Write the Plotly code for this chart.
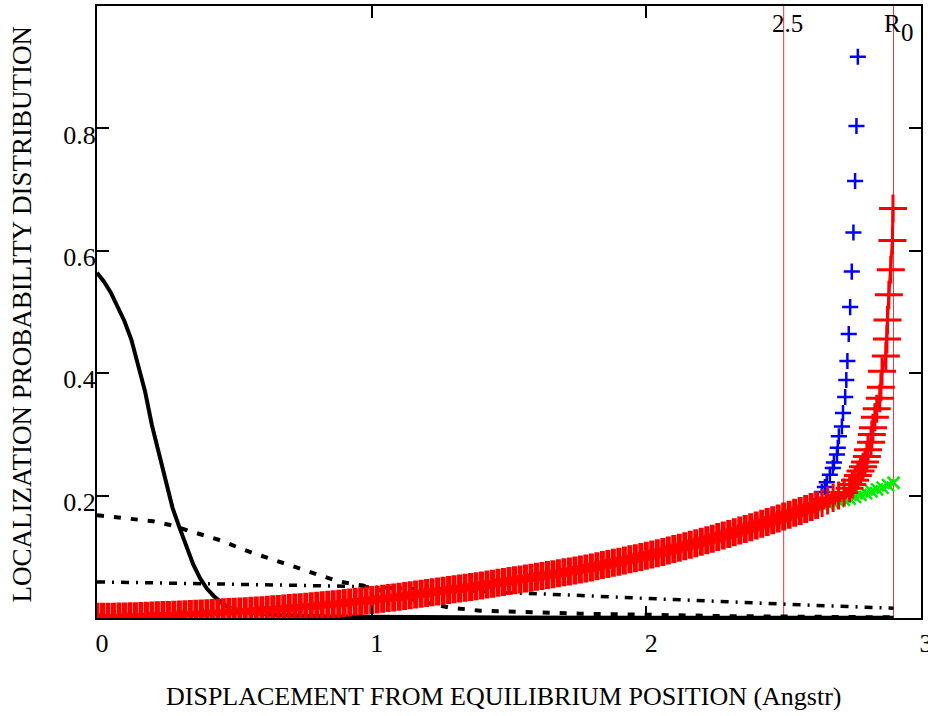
import plotly.graph_objects as go

# ---- black curves: low-lying localization distributions ----
solid_x = [0, 0.025, 0.05, 0.075, 0.1, 0.125, 0.15, 0.175, 0.2, 0.225, 0.25, 0.275, 0.3, 0.325,
           0.35, 0.375, 0.4, 0.425, 0.45, 0.48, 0.55, 0.65, 0.8, 1.0, 1.2, 1.5, 2.0, 2.5, 2.9]
solid_y = [0.564, 0.550, 0.532, 0.510, 0.485, 0.455, 0.415, 0.370, 0.315, 0.268, 0.222, 0.180,
           0.148, 0.118, 0.088, 0.065, 0.048, 0.036, 0.026, 0.017, 0.009, 0.005, 0.003, 0.002,
           0.001, 0.0008, 0.0006, 0.0005, 0.0005]

dash_x = [0, 0.146, 0.204, 0.266, 0.328, 0.386, 0.448, 0.510, 0.568, 0.637, 0.703, 0.764, 0.830,
          0.877, 0.968, 1.05, 1.15, 1.25, 1.285, 1.394, 1.576, 1.758, 1.904, 2.1, 2.3, 2.6, 2.9]
dash_y = [0.168, 0.162, 0.158, 0.152, 0.144, 0.135, 0.127, 0.116, 0.106, 0.096, 0.086, 0.076, 0.066,
          0.060, 0.053, 0.042, 0.030, 0.020, 0.017, 0.012, 0.009, 0.007, 0.006, 0.004, 0.003, 0.002, 0.001]

dd_x = [0, 0.3, 0.6, 0.8, 0.9, 1.2, 1.5, 1.61, 1.8, 2.0, 2.2, 2.43, 2.65, 2.9]
dd_y = [0.059, 0.057, 0.055, 0.053, 0.052, 0.047, 0.042, 0.040, 0.036, 0.032, 0.028, 0.024, 0.020, 0.016]

# ---- red "+" series (dense along the whole range) ----
red_x = [0.00, 0.02, 0.04, 0.06, 0.08, 0.10, 0.12, 0.14, 0.16, 0.18, 0.20, 0.22, 0.24, 0.26, 0.28,
         0.30, 0.32, 0.34, 0.36, 0.38, 0.40, 0.42, 0.44, 0.46, 0.48, 0.50, 0.52, 0.54, 0.56, 0.58,
         0.60, 0.62, 0.64, 0.66, 0.68, 0.70, 0.72, 0.74, 0.76, 0.78, 0.80, 0.82, 0.84, 0.86, 0.88,
         0.90, 0.92, 0.94, 0.96, 0.98, 1.00, 1.02, 1.04, 1.06, 1.08, 1.10, 1.12, 1.14, 1.16, 1.18,
         1.20, 1.22, 1.24, 1.26, 1.28, 1.30, 1.32, 1.34, 1.36, 1.38, 1.40, 1.42, 1.44, 1.46, 1.48,
         1.50, 1.52, 1.54, 1.56, 1.58, 1.60, 1.62, 1.64, 1.66, 1.68, 1.70, 1.72, 1.74, 1.76, 1.78,
         1.80, 1.82, 1.84, 1.86, 1.88, 1.90, 1.92, 1.94, 1.96, 1.98, 2.00, 2.02, 2.04, 2.06, 2.08,
         2.10, 2.12, 2.14, 2.16, 2.18, 2.20, 2.22, 2.24, 2.26, 2.28, 2.30, 2.32, 2.34, 2.36, 2.38,
         2.40, 2.42, 2.44, 2.46, 2.48, 2.50, 2.52, 2.54, 2.56, 2.58, 2.60, 2.62, 2.64, 2.66, 2.68,
         2.70, 2.72, 2.74, 2.75, 2.76, 2.77, 2.78,
         2.789, 2.796, 2.803, 2.807, 2.818, 2.821, 2.825, 2.832, 2.839, 2.850, 2.854, 2.858, 2.872,
         2.876, 2.878, 2.883, 2.890, 2.896, 2.898]
red_y = [0.0020, 0.0020, 0.0021, 0.0022, 0.0024, 0.0026, 0.0028, 0.0030, 0.0033, 0.0036, 0.0039,
         0.0043, 0.0047, 0.0051, 0.0055, 0.0059, 0.0063, 0.0067, 0.0071, 0.0075, 0.0079, 0.0083,
         0.0087, 0.0092, 0.0097, 0.0102, 0.0107, 0.0112, 0.0117, 0.0122, 0.0128, 0.0135, 0.0142,
         0.0149, 0.0156, 0.0163, 0.0170, 0.0177, 0.0184, 0.0191, 0.0199, 0.0207, 0.0216, 0.0225,
         0.0234, 0.0244, 0.0254, 0.0264, 0.0274, 0.0284, 0.0294, 0.0304, 0.0315, 0.0326, 0.0337,
         0.0348, 0.0360, 0.0372, 0.0384, 0.0396, 0.0408, 0.0420, 0.0432, 0.0444, 0.0456, 0.0468,
         0.0481, 0.0494, 0.0507, 0.0520, 0.0533, 0.0547, 0.0561, 0.0575, 0.0589, 0.0603, 0.0617,
         0.0631, 0.0645, 0.0659, 0.0673, 0.0687, 0.0701, 0.0716, 0.0731, 0.0746, 0.0761, 0.0776,
         0.0791, 0.0807, 0.0826, 0.0845, 0.0864, 0.0883, 0.0902, 0.0921, 0.0940, 0.0959, 0.0978,
         0.0997, 0.1016, 0.1036, 0.1058, 0.1080, 0.1103, 0.1126, 0.1149, 0.1173, 0.1197, 0.1221,
         0.1246, 0.1271, 0.1296, 0.1322, 0.1348, 0.1374, 0.1401, 0.1428, 0.1455, 0.1483, 0.1511,
         0.1539, 0.1568, 0.1597, 0.1627, 0.1657, 0.1687, 0.1718, 0.1749, 0.1781, 0.1813, 0.1845,
         0.188, 0.192, 0.196, 0.200, 0.205, 0.212, 0.218, 0.225, 0.233, 0.240,
         0.247, 0.255, 0.264, 0.275, 0.287, 0.300, 0.311, 0.328, 0.342, 0.359, 0.377, 0.403, 0.428,
         0.456, 0.487, 0.528, 0.569, 0.617, 0.669]

# ---- blue "+" series ----
blue_x = [0.0, 0.1, 0.2, 0.3, 0.4, 0.5, 0.6, 0.7, 0.8, 0.9, 1.0, 1.1, 1.2, 1.3, 1.4, 1.5, 1.6, 1.7,
          1.8, 1.9, 2.0, 2.1, 2.2, 2.3, 2.4, 2.5, 2.6, 2.62,
          2.639, 2.650, 2.657, 2.668, 2.679, 2.683, 2.694, 2.697, 2.701, 2.712, 2.716, 2.724, 2.728,
          2.732, 2.737, 2.742, 2.748, 2.754, 2.760, 2.765, 2.770]
blue_y = [0.002, 0.0026, 0.0039, 0.0059, 0.0079, 0.0102, 0.0128, 0.0163, 0.0199, 0.0244, 0.0294,
          0.0348, 0.0408, 0.0468, 0.0533, 0.0603, 0.0673, 0.0746, 0.0826, 0.0921, 0.1016, 0.1126,
          0.1246, 0.1374, 0.1511, 0.1657, 0.1813, 0.194,
          0.206, 0.214, 0.222, 0.234, 0.245, 0.254, 0.267, 0.278, 0.297, 0.313, 0.335, 0.361, 0.389,
          0.420, 0.464, 0.508, 0.566, 0.630, 0.714, 0.804, 0.917]

# ---- green "x" series ----
green_x = [0.0, 0.1, 0.2, 0.3, 0.4, 0.5, 0.6, 0.7, 0.8, 0.9, 1.0, 1.1, 1.2, 1.3, 1.4, 1.5, 1.6, 1.7,
           1.8, 1.9, 2.0, 2.1, 2.2, 2.3, 2.4, 2.5, 2.6, 2.62, 2.64, 2.66, 2.68, 2.70, 2.72, 2.74, 2.76,
           2.78, 2.80, 2.82, 2.84, 2.86, 2.88, 2.90]
green_y = [0.002, 0.0026, 0.0039, 0.0059, 0.0079, 0.0102, 0.0128, 0.0163, 0.0199, 0.0244, 0.0294,
           0.0348, 0.0408, 0.0468, 0.0533, 0.0603, 0.0673, 0.0746, 0.0826, 0.0921, 0.1016, 0.1126,
           0.1246, 0.1374, 0.1511, 0.1657, 0.181, 0.183, 0.185, 0.187, 0.189, 0.191, 0.193, 0.195,
           0.198, 0.201, 0.204, 0.207, 0.210, 0.213, 0.217, 0.221]

# ---- vertical reference markers ----
marker_x = [2.5, 2.9]
marker_labels = ["2.5", "R"]

x_ticks = [0, 1, 2, 3]
y_ticks = [0.2, 0.4, 0.6, 0.8]

SERIF = "Liberation Serif, Times New Roman, serif"

fig = go.Figure()

fig.add_trace(go.Scatter(x=solid_x, y=solid_y, mode="lines",
                         line=dict(color="black", width=4)))
fig.add_trace(go.Scatter(x=dash_x, y=dash_y, mode="lines",
                         line=dict(color="black", width=4, dash="7px,10px")))
fig.add_trace(go.Scatter(x=dd_x, y=dd_y, mode="lines",
                         line=dict(color="black", width=3.5, dash="8px,7px,2px,7px")))
fig.add_trace(go.Scatter(x=blue_x, y=blue_y, mode="markers",
                         marker=dict(symbol="cross-thin", size=11.5,
                                     line=dict(color="#0000ff", width=2.5))))
fig.add_trace(go.Scatter(x=green_x, y=green_y, mode="markers",
                         marker=dict(symbol="x-thin", size=12,
                                     line=dict(color="#00ee00", width=2.5))))

# heavier strokes where the red crosses pack into a continuous band
red_stroke = [5 if xv <= 2.62 else 3 for xv in red_x]
fig.add_trace(go.Scatter(x=red_x, y=red_y, mode="lines+markers",
                         line=dict(color="#ff0000", width=3),
                         marker=dict(symbol="cross-thin", size=20,
                                     line=dict(color="#ff0000", width=red_stroke))))

for xv in marker_x:
    fig.add_shape(type="line", x0=xv, x1=xv, y0=0, y1=1, xref="x", yref="paper",
                  line=dict(color="#ff3030", width=1), layer="below")

fig.add_annotation(x=marker_x[0], y=0.9665, xref="x", yref="paper", text=marker_labels[0],
                   showarrow=False, xanchor="center", yanchor="middle", xshift=4, yshift=3,
                   font=dict(family=SERIF, size=25, color="black"))
fig.add_annotation(x=marker_x[1], y=0.9665, xref="x", yref="paper", text=marker_labels[1],
                   showarrow=False, xanchor="center", yanchor="middle", xshift=-1, yshift=3,
                   font=dict(family=SERIF, size=25, color="black"))
fig.add_annotation(x=marker_x[1], y=0.9665, xref="x", yref="paper", text="0",
                   showarrow=False, xanchor="center", yanchor="middle", xshift=14, yshift=-6,
                   font=dict(family=SERIF, size=25, color="black"))

fig.add_annotation(x=0.494, y=-0.129, xref="paper", yref="paper",
                   text="DISPLACEMENT FROM EQUILIBRIUM POSITION (Angstr)",
                   showarrow=False, xanchor="center", yanchor="middle",
                   font=dict(family=SERIF, size=26, color="black"))
fig.add_annotation(x=-0.091, y=0.496, xref="paper", yref="paper",
                   text="LOCALIZATION PROBABILITY DISTRIBUTION", textangle=-90,
                   showarrow=False, xanchor="center", yanchor="middle",
                   font=dict(family=SERIF, size=27, color="black"))

axis_common = dict(showline=True, linecolor="black", linewidth=2, mirror="ticks",
                   ticks="inside", ticklen=12, tickwidth=2, tickcolor="black",
                   showgrid=False, zeroline=False, automargin=False,
                   ticklabeloverflow="allow",
                   tickfont=dict(family=SERIF, size=26, color="black"))

fig.update_xaxes(range=[0, 3], tickvals=x_ticks, ticktext=[str(v) for v in x_ticks],
                 ticklabelstandoff=1, ticklabelshift=5, **axis_common)
fig.update_yaxes(range=[0, 1.0], tickvals=y_ticks, ticktext=[f"{v:.1f}" for v in y_ticks],
                 ticklabelstandoff=-6, ticklabelshift=6, **axis_common)

fig.update_layout(width=928, height=716, margin=dict(l=97, r=7, t=6, b=98),
                  paper_bgcolor="white", plot_bgcolor="white", showlegend=False,
                  font=dict(family=SERIF, color="black"))

fig.write_html("out.html")
